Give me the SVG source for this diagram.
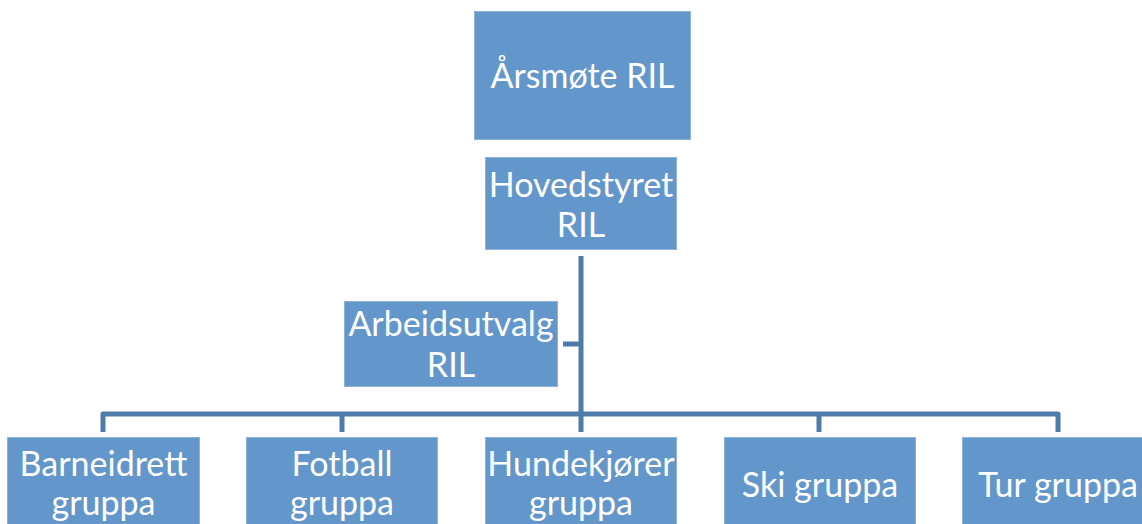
<svg xmlns="http://www.w3.org/2000/svg" width="1142" height="524" viewBox="0 0 1142 524">
<style>
.box{fill:#6397CB;stroke:#8DB3DB;stroke-width:1}
.t{font-family:Lato,"Open Sans","Liberation Sans",sans-serif;font-size:34px;fill:#FFFFFF;text-anchor:middle}
.c{stroke:#4E7BAA;stroke-width:5;fill:none;stroke-linejoin:round}
</style>
<rect width="1142" height="524" fill="#FFFFFF"/>
<g id="connectors">
<path class="c" d="M581,256 V432"/>
<path class="c" d="M563,344 H581"/>
<path class="c" d="M103,432 V414 H1058 V432"/>
<path class="c" d="M342,414 V432"/>
<path class="c" d="M819,414 V432"/>
</g>
<g id="arsmote">
<rect class="box" x="474.5" y="11.5" width="216" height="128"/>
<text class="t" x="582.5" y="88">Årsmøte RIL</text>
</g>
<g id="hovedstyret">
<rect class="box" x="485.5" y="157.5" width="191" height="92"/>
<text class="t" x="581" y="197">Hovedstyret</text>
<text class="t" x="581" y="237">RIL</text>
</g>
<g id="arbeidsutvalg">
<rect class="box" x="344.5" y="301.5" width="213" height="85"/>
<text class="t" x="451" y="336">Arbeidsutvalg</text>
<text class="t" x="451" y="377">RIL</text>
</g>
<g id="barneidrett">
<rect class="box" x="7.5" y="437.5" width="192" height="128"/>
<text class="t" x="103.5" y="476">Barneidrett</text>
<text class="t" x="103.5" y="515">gruppa</text>
</g>
<g id="fotball">
<rect class="box" x="246.5" y="437.5" width="191" height="128"/>
<text class="t" x="342" y="476">Fotball</text>
<text class="t" x="342" y="515">gruppa</text>
</g>
<g id="hundekjorer">
<rect class="box" x="485.5" y="437.5" width="191" height="128"/>
<text class="t" x="581" y="476">Hundekjører</text>
<text class="t" x="581" y="515">gruppa</text>
</g>
<g id="ski">
<rect class="box" x="724.5" y="437.5" width="191" height="128"/>
<text class="t" x="820" y="497">Ski gruppa</text>
</g>
<g id="tur">
<rect class="box" x="962.5" y="437.5" width="191" height="128"/>
<text class="t" x="1058" y="497">Tur gruppa</text>
</g>
</svg>
